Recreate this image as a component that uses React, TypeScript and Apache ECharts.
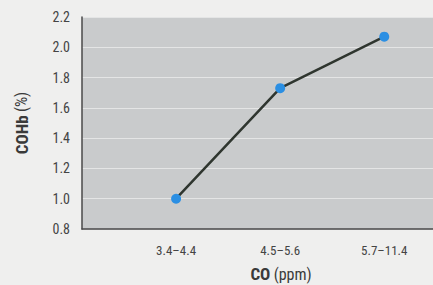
import React, { useEffect, useRef } from "react";
import * as echarts from "echarts";

const categories = ["3.4–4.4", "4.5–5.6", "5.7–11.4"];
const cohbValues = [1.0, 1.73, 2.07];
const yTicks = [0.8, 1.0, 1.2, 1.4, 1.6, 1.8, 2.0, 2.2];

const FONT = "'Liberation Sans Narrow', 'Roboto Condensed', 'DejaVu Sans Condensed', sans-serif";

export default function App() {
  const ref = useRef<HTMLDivElement>(null);
  useEffect(() => {
    if (!ref.current) return;
    const chart = echarts.init(ref.current, undefined, { renderer: "svg" });
    chart.setOption({
      animation: false,
      backgroundColor: "#efefee",
      grid: {
        left: 82,
        width: 398,
        top: 17,
        height: 212,
        show: true,
        backgroundColor: "#c9cbcc",
        borderWidth: 0,
        outerBoundsMode: "none",
        containLabel: false,
      },
      xAxis: {
        type: "value",
        min: -0.904,
        max: 2.92,
        name: "{b|CO} {n|(ppm)}",
        nameLocation: "middle",
        nameGap: 36,
        nameTextStyle: {
          rich: {
            b: { fontFamily: FONT, fontSize: 17, fontWeight: "bold", color: "#3a3a3a", lineHeight: 18 },
            n: { fontFamily: FONT, fontSize: 16, color: "#3a3a3a", lineHeight: 18 },
          },
        },
        axisLine: { show: true, onZero: false, lineStyle: { color: "#4a4a4a", width: 1.5 } },
        axisTick: { show: false },
        splitLine: { show: false },
        axisLabel: {
          customValues: [0, 1, 2],
          formatter: (v: number) => categories[Math.round(v)] ?? "",
          fontFamily: FONT,
          fontSize: 13,
          color: "#444",
          margin: 15,
        },
      },
      yAxis: {
        type: "value",
        min: 0.8,
        max: 2.2,
        interval: 0.2,
        name: "{b|COHb} {n|(%)}",
        nameLocation: "middle",
        nameGap: 52,
        nameRotate: 90,
        nameTextStyle: {
          rich: {
            b: { fontFamily: FONT, fontSize: 17, fontWeight: "bold", color: "#3a3a3a" },
            n: { fontFamily: FONT, fontSize: 16, color: "#3a3a3a" },
          },
        },
        axisLine: { show: true, onZero: false, lineStyle: { color: "#4a4a4a", width: 1.5 } },
        axisTick: { show: false },
        splitLine: {
          show: true,
          lineStyle: { color: "#e4e5e5", width: 1.2 },
        },
        axisLabel: {
          formatter: (v: number) => {
            const t = yTicks.find((x) => Math.abs(x - v) < 1e-6);
            return t !== undefined ? t.toFixed(1) : "";
          },
          fontFamily: FONT,
          fontSize: 14,
          color: "#444",
          margin: 12,
        },
      },
      series: [
        {
          type: "line",
          data: cohbValues.map((v, i) => [i, v]),
          lineStyle: { color: "#2f362f", width: 2.5 },
          symbol: "circle",
          symbolSize: 10,
          itemStyle: { color: "#2b8fe3" },
          z: 3,
        },
      ],
    });
    return () => chart.dispose();
  }, []);
  return (
    <div
      ref={ref}
      style={{ position: "absolute", left: 0, top: 0, width: 433, height: 285 }}
    />
  );
}
